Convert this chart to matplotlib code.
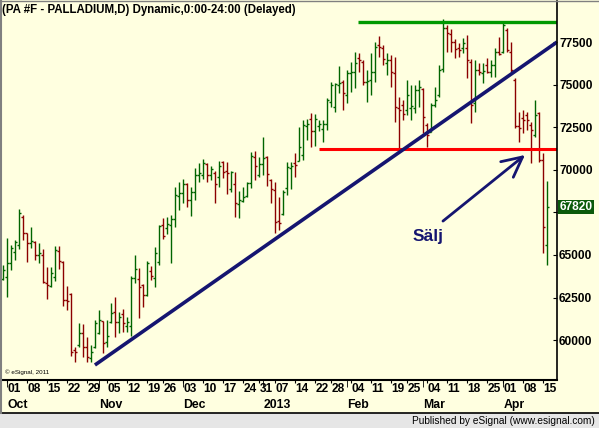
import numpy as np
import pandas as pd
import matplotlib
matplotlib.use('Agg')
import matplotlib.pyplot as plt
import matplotlib.transforms as mtransforms
from matplotlib.patches import Rectangle
from matplotlib.lines import Line2D

plt.rcParams['font.family'] = ['Liberation Sans', 'DejaVu Sans']

# daily palladium futures, 28 Sep 2012 - 16 Apr 2013
opens = [63590, 63710, 64530, 65170, 65580, 67230, 66290, 65700, 65760, 65000,
         65000, 63350, 63180, 63710, 65230, 64590, 62360, 62710, 59420, 59710,
         60420, 59600, 58950, 59600, 60420, 61120, 59890, 61060, 61650, 61060,
         61530, 60830, 60830, 63650, 63590, 63240, 62650, 64060, 63650, 64590,
         66760, 66580, 66760, 67110, 68460, 68640, 69160, 68230, 68700, 69690,
         69690, 70340, 69690, 69810, 69580, 70460, 69930, 68870, 69160, 67990,
         68170, 68460, 69220, 70750, 69690, 70340, 70750, 69400, 68810, 66990,
         67400, 68930, 70100, 70400, 70510, 70870, 72570, 72980, 72280, 72570,
         72390, 72690, 73980, 73680, 74980, 75150, 74390, 75680, 75740, 76560,
         76330, 75150, 75270, 75740, 77320, 77150, 76270, 76440, 75680, 73630,
         73800, 73510, 73630, 73630, 74680, 74740, 72630, 72220, 73800, 74390,
         75920, 78320, 77970, 77500, 77150, 77150, 77150, 76330, 73920, 75860,
         75680, 76150, 75740, 76150, 76910, 76910, 78200, 76910, 75270, 72570,
         73040, 73210, 72630, 72040, 73330, 70570, 65580]
highs = [64410, 65990, 65580, 65880, 67700, 67340, 66290, 66640, 65820, 65700,
         65350, 64290, 64290, 65530, 65530, 64640, 63180, 62770, 59600, 61010,
         60950, 60180, 59710, 61180, 61770, 61120, 61180, 62180, 62530, 61650,
         61830, 61360, 63760, 65000, 64230, 63290, 64640, 64350, 65470, 66760,
         67170, 67230, 67340, 68990, 69280, 69460, 69220, 68990, 70100, 70400,
         70630, 70400, 70220, 69930, 70510, 70510, 70460, 69930, 69870, 68750,
         68990, 69280, 71040, 71100, 70750, 71920, 70810, 69460, 69280, 68400,
         68810, 70460, 70460, 70980, 72510, 72920, 72980, 73330, 73270, 72920,
         72920, 74210, 75150, 75090, 76090, 75270, 75860, 76330, 76910, 76850,
         76440, 75860, 76850, 77500, 77850, 77320, 76850, 76740, 76620, 74270,
         74100, 75270, 74980, 74980, 75270, 74800, 72750, 73920, 74860, 76150,
         78850, 78500, 78260, 77680, 77440, 77730, 77910, 76500, 76440, 76270,
         76270, 76560, 76440, 77150, 77790, 78620, 78320, 77500, 75390, 73390,
         73510, 73390, 72800, 74100, 73390, 70980, 69340]
lows = [63530, 62530, 64120, 64700, 65350, 65880, 64590, 65410, 64700, 64530,
        63350, 62410, 63120, 63470, 64180, 62000, 61770, 59070, 58720, 59600,
        59010, 58720, 58720, 59540, 60360, 59240, 59600, 61010, 60180, 60420,
        60480, 60480, 60240, 63350, 61300, 61940, 62590, 63530, 63120, 64410,
        65940, 66230, 64530, 66640, 67640, 68050, 67810, 67290, 68230, 69280,
        69460, 69280, 69400, 68050, 68990, 69520, 68580, 68700, 67230, 67170,
        68110, 68400, 68930, 69400, 69580, 69690, 69050, 68050, 66290, 66460,
        67340, 68520, 68870, 69580, 70510, 70570, 71750, 71340, 71400, 72280,
        71630, 72330, 73680, 73390, 74510, 73510, 73920, 74570, 74800, 75740,
        74980, 73980, 74390, 75150, 76620, 76150, 75560, 74860, 72800, 71160,
        72920, 73210, 72920, 73330, 73680, 72160, 71340, 72220, 73680, 74270,
        75740, 76910, 76910, 76560, 76620, 76850, 75390, 72750, 73390, 75560,
        75090, 75680, 75450, 75450, 76740, 76850, 76910, 75740, 72450, 71630,
        72160, 72330, 70400, 71920, 70460, 65110, 64410]
closes = [64120, 64530, 65410, 65760, 67460, 66290, 65700, 65820, 65000, 65110,
          63410, 63240, 63940, 65290, 64640, 62360, 62300, 59300, 59300, 60420,
          59600, 59010, 59300, 61010, 61180, 59830, 60240, 61590, 61060, 61360,
          61010, 61060, 63650, 64180, 63120, 62650, 64530, 63760, 65110, 66700,
          66110, 66820, 67110, 68520, 68640, 69160, 68230, 68700, 69690, 69810,
          70400, 69690, 70050, 69160, 70220, 69870, 69810, 69870, 68050, 68230,
          68400, 69220, 70810, 70220, 70340, 70690, 69750, 68870, 66930, 66880,
          68700, 70160, 70220, 70280, 71340, 72630, 72690, 72280, 72980, 72690,
          72690, 74100, 74980, 75030, 75090, 74510, 75680, 75740, 76270, 76440,
          75150, 75210, 75740, 77210, 77210, 76500, 76440, 75740, 73680, 73510,
          73270, 74390, 73740, 74680, 74860, 73100, 72040, 73800, 74100, 75860,
          78320, 78030, 77500, 77090, 77030, 77440, 76440, 73800, 75860, 75740,
          75800, 75740, 76150, 76910, 76800, 78500, 77030, 75860, 72570, 72450,
          72920, 72920, 72330, 73210, 70570, 66640, 67820]

holidays = ['2012-11-22', '2012-12-25', '2013-01-01', '2013-01-21', '2013-02-18', '2013-03-29']
month_names = ['Oct', 'Nov', 'Dec', '2013', 'Feb', 'Mar', 'Apr']

resistance = 78650
support = 71220
trend_x = [22.9, 138.4]
trend_y = [58540, 77500]

days = pd.bdate_range('2012-09-28', '2013-04-16')
days = days[~days.isin(pd.to_datetime(holidays))]
idx = np.arange(len(days))
s = pd.Series(idx, index=days)

wk = s.groupby([days.isocalendar().year.values, days.isocalendar().week.values]).min()
week_idx = [i for i in wk.values if i > 0]
week_lbl = [days[i].strftime('%d') for i in week_idx]
mo = s.groupby([days.year, days.month]).min()
month_idx = [i for i in mo.values if i > 0]

bg = '#ffffe0'
green = '#006400'
red = '#8b0000'
navy = '#151570'

fig = plt.figure(figsize=(5.99, 4.28), dpi=100, facecolor=bg)
ax = fig.add_axes([2/599, 48/428, 555/599, 379/428])
ax.set_facecolor(bg)

o = np.array(opens); h = np.array(highs); l = np.array(lows); c = np.array(closes)
cols = np.where(c >= o, green, red)
ax.vlines(idx, l, h, colors=cols, lw=1)
ax.hlines(o, idx - 0.5, idx, colors=cols, lw=1)
ax.hlines(c, idx, idx + 0.5, colors=cols, lw=1)

ax.hlines(resistance, 88.7, 140, colors='#009900', lw=2.4)
ax.hlines(support, 78.9, 140, colors='#ff0000', lw=2.2)
ax.plot(trend_x, trend_y, color=navy, lw=2.6, solid_capstyle='butt')

ax.annotate('', xy=(130.4, 70870), xytext=(109.9, 66990),
            arrowprops=dict(arrowstyle='->,head_length=0.9,head_width=0.45',
                            color=navy, lw=2, mutation_scale=16, shrinkA=0, shrinkB=0))
ax.text(102.2, 66110, 'Sälj', fontsize=12.5, fontweight='bold', color=navy,
        ha='left', va='center')

ax.set_xlim(-0.33, 138.4)
ax.set_ylim(57660, 79910)

# 67500 sits under the last-price box, as in the original
ax.yaxis.tick_right()
yt = list(range(60000, 77501, 2500))
ax.set_yticks(yt)
ax.set_yticklabels(['' if v == 67500 else str(v) for v in yt], fontweight='bold')
ax.tick_params(axis='y', direction='in', length=3, labelsize=8.6, pad=1.5, color='black')

ax.set_xticks(week_idx)
ax.set_xticklabels(week_lbl, fontweight='bold', ha='left')
ax.tick_params(axis='x', direction='out', length=2.2, labelsize=8.6, pad=0)
ax.xaxis.remove_overlapping_locs = False
ax.set_xticks(month_idx, minor=True)
ax.tick_params(axis='x', which='minor', length=5, direction='out')

tr = mtransforms.blended_transform_factory(ax.transData, ax.transAxes)
for i, name in zip(month_idx, month_names):
    ax.text(i, -0.049, name, transform=tr, ha='left', va='top',
            fontsize=8.8, fontweight='bold')

# last price box
trp = mtransforms.blended_transform_factory(ax.transAxes, ax.transData)
ax.text(1.004, closes[-1], str(closes[-1]), transform=trp, ha='left', va='center',
        fontsize=8.6, fontweight='bold', color='white',
        bbox=dict(boxstyle='square,pad=0.12', fc='#0b5a0b', ec='none'))

ax.text(0.005, 0.021, '\u00a9 eSignal, 2011', transform=ax.transAxes, fontsize=4.5,
        va='center', ha='left')

for side in ['left', 'top']:
    ax.spines[side].set_visible(False)
ax.spines['right'].set_linewidth(1.2)
ax.spines['bottom'].set_linewidth(1.5)

fig.text(2/599, 1 - 10/428, '(PA #F - PALLADIUM,D) Dynamic,0:00-24:00 (Delayed)',
         ha='left', va='center', fontsize=8.3, fontweight='bold')

fig.patches.append(Rectangle((0, 0), 1, 15/428, transform=fig.transFigure,
                             facecolor='#e6e6e6', edgecolor='none', zorder=0))
fig.lines.append(Line2D([0, 1], [15/428, 15/428], transform=fig.transFigure,
                        color='black', lw=1.2))
fig.lines.append(Line2D([1/599, 1/599], [15/428, 1], transform=fig.transFigure,
                        color='#808080', lw=1.5))
fig.lines.append(Line2D([0, 1], [1 - 0.5/428, 1 - 0.5/428], transform=fig.transFigure,
                        color='#808080', lw=1))
fig.text(595/599, 7.5/428, 'Published by eSignal (www.esignal.com)', ha='right',
         va='center', fontsize=7.3)

fig.savefig('out.png', dpi=100, facecolor=bg)
